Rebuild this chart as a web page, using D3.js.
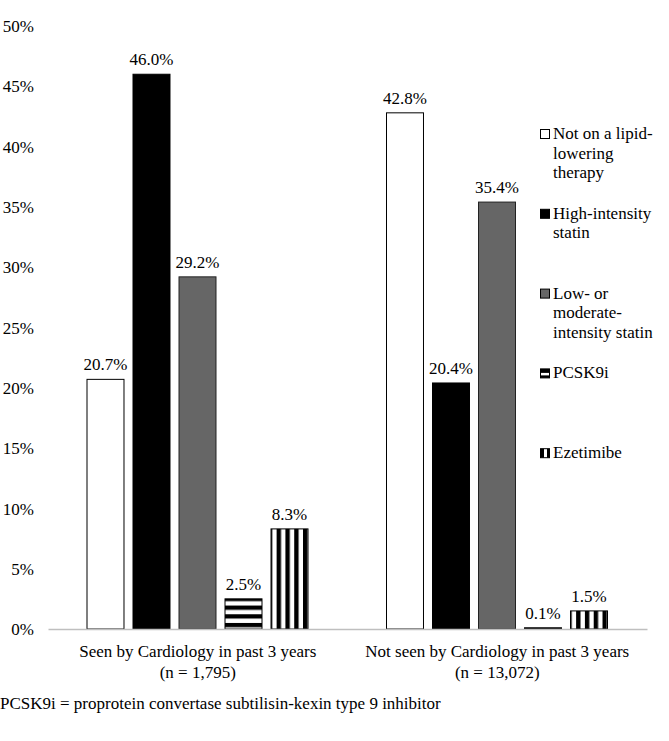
<!DOCTYPE html>
<html>
<head>
<meta charset="utf-8">
<script src="https://cdn.jsdelivr.net/npm/d3@7/dist/d3.min.js"></script>
</head>
<body style="margin:0;background:#fff">
<svg id="chart" width="669" height="741" font-family="Liberation Serif"></svg>
<script>
// ---- data ----
const groups = ["Seen by Cardiology in past 3 years|(n = 1,795)", "Not seen by Cardiology in past 3 years|(n = 13,072)"];
const seriesNames = ["Not on a lipid-lowering therapy", "High-intensity statin", "Low- or moderate-intensity statin", "PCSK9i", "Ezetimibe"];
const legendLines = [["Not on a lipid-", "lowering", "therapy"], ["High-intensity", "statin"], ["Low- or", "moderate-", "intensity statin"], ["PCSK9i"], ["Ezetimibe"]];
const seenValues = [20.7, 46.0, 29.2, 2.5, 8.3];
const notSeenValues = [42.8, 20.4, 35.4, 0.1, 1.5];
const yTicks = [0, 5, 10, 15, 20, 25, 30, 35, 40, 45, 50];
const footnote = "PCSK9i = proprotein convertase subtilisin-kexin type 9 inhibitor";

const FONT = "Liberation Serif";
const FS = 17;
const valuesByGroup = [seenValues, notSeenValues];
const fills = ["#ffffff", "#000000", "#666666", null, null];

const svg = d3.select("#chart");
const defs = svg.append("defs");

function txt(sel) {
  return sel.style("font-family", FONT).attr("font-family", FONT).attr("font-size", FS).attr("fill", "#000");
}

// ---- scales ----
const x0 = d3.scaleBand().domain(groups).range([48, 647]).paddingInner(0).paddingOuter(0);
const x1 = d3.scaleBand().domain(seriesNames).range([39, x0.bandwidth() - 39.5]).paddingInner(0.196).paddingOuter(0);
const y = d3.scaleLinear().domain([0, 50]).range([629, 26]);

// ---- y axis labels ----
const yAxis = d3.axisLeft(y).tickValues(yTicks).tickSize(0).tickPadding(0).tickFormat(d => d + "%");
const yg = svg.append("g").attr("transform", "translate(34,0)").call(yAxis);
yg.attr("font-family", FONT).attr("font-size", FS);
yg.select(".domain").remove();
txt(yg.selectAll("text")).attr("dy", "0.33em");

// ---- bars ----
const barData = [];
groups.forEach((g, gi) => {
  seriesNames.forEach((s, si) => {
    barData.push({ g, s, si, gi, v: valuesByGroup[gi][si] });
  });
});

barData.forEach((d, i) => {
  const bx = x0(d.g) + x1(d.s);
  const by = y(d.v);
  if (d.si === 3) {
    const per = 8.7;
    const p = defs.append("pattern").attr("id", "hp" + i).attr("patternUnits", "userSpaceOnUse")
      .attr("x", bx).attr("y", by + 6.7 - per).attr("width", 10).attr("height", per);
    p.append("rect").attr("width", 10).attr("height", per).attr("fill", "#fff");
    p.append("rect").attr("width", 10).attr("height", 4.3).attr("fill", "#000");
    d.fill = "url(#hp" + i + ")";
  } else if (d.si === 4) {
    const per = 8.8;
    const p = defs.append("pattern").attr("id", "vp" + i).attr("patternUnits", "userSpaceOnUse")
      .attr("x", bx + 5.6 - per).attr("y", by).attr("width", per).attr("height", 10);
    p.append("rect").attr("width", per).attr("height", 10).attr("fill", "#fff");
    p.append("rect").attr("width", 4.4).attr("height", 10).attr("fill", "#000");
    d.fill = "url(#vp" + i + ")";
  } else {
    d.fill = fills[d.si];
  }
});

svg.append("g").selectAll("rect").data(barData).join("rect")
  .attr("x", d => x0(d.g) + x1(d.s))
  .attr("y", d => y(d.v))
  .attr("width", x1.bandwidth())
  .attr("height", d => y(0) - y(d.v))
  .attr("fill", d => d.fill)
  .attr("stroke", d => d.si === 2 ? "#222" : "#000")
  .attr("stroke-width", 1);

// value labels
txt(svg.append("g").selectAll("text").data(barData).join("text"))
  .attr("x", d => x0(d.g) + x1(d.s) + x1.bandwidth() / 2)
  .attr("y", d => y(d.v) - 9)
  .attr("text-anchor", "middle")
  .text(d => d.v.toFixed(1) + "%");

// x axis line
const xAxis = d3.axisBottom(x0).tickSize(0).tickFormat("");
const xg = svg.append("g").attr("transform", `translate(0,${y(0)})`).call(xAxis);
xg.select(".domain").attr("stroke", "#bfbfbf").attr("stroke-width", 1.5);

// category labels
groups.forEach(g => {
  const lines = g.split("|");
  lines.forEach((l, li) => {
    txt(svg.append("text"))
      .attr("x", x0(g) + x0.bandwidth() / 2)
      .attr("y", 657 + li * 21)
      .attr("text-anchor", "middle")
      .text(l);
  });
});

// legend
legendLines.forEach((lines, i) => {
  const base = 139 + i * 79.8;
  const g = svg.append("g");
  const sx = 540.5, sy = base - 9.5, ss = 9;
  if (i === 3) {
    g.append("rect").attr("x", sx).attr("y", sy).attr("width", ss).attr("height", ss).attr("fill", "#fff").attr("stroke", "#000");
    g.append("rect").attr("x", sx).attr("y", sy).attr("width", ss).attr("height", 4).attr("fill", "#000");
    g.append("rect").attr("x", sx).attr("y", sy + 6.5).attr("width", ss).attr("height", 2.5).attr("fill", "#000");
  } else if (i === 4) {
    g.append("rect").attr("x", sx).attr("y", sy).attr("width", ss).attr("height", ss).attr("fill", "#fff").attr("stroke", "#000");
    g.append("rect").attr("x", sx).attr("y", sy).attr("width", 3.5).attr("height", ss).attr("fill", "#000");
    g.append("rect").attr("x", sx + 6.5).attr("y", sy).attr("width", 2.5).attr("height", ss).attr("fill", "#000");
  } else {
    g.append("rect").attr("x", sx).attr("y", sy).attr("width", ss).attr("height", ss).attr("fill", fills[i]).attr("stroke", "#000");
  }
  lines.forEach((l, li) => {
    txt(g.append("text")).attr("x", 553).attr("y", base + li * 19.6).text(l);
  });
});

// footnote
txt(svg.append("text")).attr("x", 0).attr("y", 709).text(footnote);
</script>
</body>
</html>
